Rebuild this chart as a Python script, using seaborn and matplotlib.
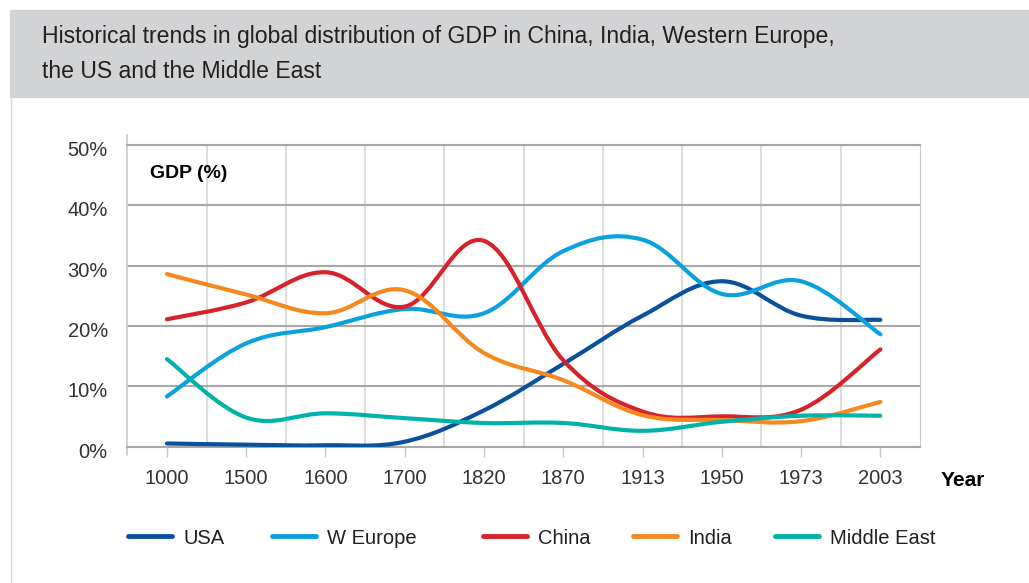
import numpy as np
import pandas as pd
import matplotlib.pyplot as plt
import seaborn as sns
from matplotlib.path import Path
from matplotlib.patches import PathPatch, Rectangle
from matplotlib.lines import Line2D
from matplotlib.transforms import ScaledTranslation

# values (share of world GDP, %)
years = ["1000", "1500", "1600", "1700", "1820", "1870", "1913", "1950", "1973", "2003"]
usa = [0.5, 0.3, 0.2, 0.8, 6.0, 13.7, 21.7, 27.4, 21.7, 21.0]
w_europe = [8.3, 17.1, 19.8, 22.8, 22.1, 32.4, 34.3, 25.3, 27.4, 18.6]
china = [21.1, 23.9, 28.9, 23.2, 34.1, 14.3, 5.8, 5.0, 6.1, 16.1]
india = [28.6, 25.2, 22.1, 25.9, 15.5, 11.0, 5.2, 4.4, 4.2, 7.4]
middle_east = [14.5, 4.8, 5.5, 4.7, 3.9, 3.9, 2.6, 4.1, 5.1, 5.1]

series = ["USA", "W Europe", "China", "India", "Middle East"]
y_ticks = [0, 10, 20, 30, 40, 50]

df = pd.DataFrame({"Year": years, "USA": usa, "W Europe": w_europe,
                   "China": china, "India": india, "Middle East": middle_east})
df["pos"] = np.arange(len(df))

palette = dict(zip(series, ["#0a519c", "#0ba1dd", "#d6222a", "#f5881f", "#00b2a9"]))

sns.set_style("white")
plt.rcParams["font.family"] = ["Liberation Sans", "DejaVu Sans"]


def smooth_path(xs, ys, k=0.18):
    # cardinal spline through the points, drawn as cubic bezier segments
    pts = np.column_stack([xs, ys]).astype(float)
    ext = np.vstack([pts[0], pts, pts[-1]])
    verts = [pts[0]]
    codes = [Path.MOVETO]
    for i in range(len(pts) - 1):
        p0, p1, p2, p3 = ext[i], ext[i + 1], ext[i + 2], ext[i + 3]
        verts += [p1 + (p2 - p0) * k, p2 - (p3 - p1) * k, p2]
        codes += [Path.CURVE4] * 3
    return Path(verts, codes)


W, H = 1029, 583
fig = plt.figure(figsize=(W / 100, H / 100), dpi=100)

# title band
fig.patches.append(Rectangle((10 / W, 1 - 97 / H), 1, 87 / H, transform=fig.transFigure,
                             color="#d1d3d4", zorder=0))
fig.add_artist(Line2D([10.5 / W, 10.5 / W], [0, 1 - 97 / H], color="#dcdcdc", lw=1))
fig.text(42 / W, 1 - 37 / H, "Historical trends in global distribution of GDP in China, India, Western Europe,",
         fontsize=16.6, color="#231f20", va="center")
fig.text(42 / W, 1 - 72 / H, "the US and the Middle East", fontsize=16.6, color="#231f20", va="center")

ax = fig.add_axes([127.3 / W, 136.5 / H, 792.7 / W, 301.5 / H])
ax.set_xlim(-0.5, len(years) - 0.5)
ax.set_ylim(0, 50)

for name in series:
    ax.add_patch(PathPatch(smooth_path(df["pos"], df[name]), facecolor="none",
                           edgecolor=palette[name], lw=3, capstyle="round",
                           joinstyle="round", zorder=3))

ax.set_xticks(df["pos"])
ax.set_xticklabels(years)
ax.set_xticks(np.arange(0.5, len(years) - 1, 1), minor=True)
ax.set_yticks(y_ticks)
ax.set_yticklabels([f"{v}%" for v in y_ticks])
ax.tick_params(axis="x", which="major", length=7, color="#c8c8c8", width=1, pad=9,
               labelsize=14.5, labelcolor="#333333", direction="out", bottom=True)
ax.tick_params(axis="x", which="minor", length=0)
ax.tick_params(axis="y", length=0, pad=14, labelsize=14.5, labelcolor="#333333")
shift = ScaledTranslation(0, -3.5 / 100, fig.dpi_scale_trans)
for lab in ax.get_yticklabels():
    lab.set_transform(lab.get_transform() + shift)

ax.set_axisbelow(True)
ax.grid(axis="x", which="minor", color="#d9d9d9", lw=1.3)
ax.grid(axis="y", which="major", color="#a8a8a8", lw=1.5)

ax.spines["top"].set_color("#a8a8a8")
ax.spines["top"].set_linewidth(1.5)
ax.spines["bottom"].set_color("#a8a8a8")
ax.spines["bottom"].set_linewidth(1.5)
ax.spines["right"].set_color("#c8c8c8")
ax.spines["left"].set_visible(False)
ax.add_line(Line2D([0, 0], [-0.028, 1.033], transform=ax.transAxes, color="#c8c8c8",
                   lw=1.2, clip_on=False))

fig.text(150 / W, 1 - 174 / H, "GDP (%)", fontsize=14, fontweight="bold", color="black", va="center")
fig.text(941 / W, 1 - 480 / H, "Year", fontsize=15, fontweight="bold", color="black", va="center")

# legend entries sit at uneven spacing in the reference, so place each one
legend_x = [128, 272, 483, 633, 775]
for name, lx in zip(series, legend_x):
    leg = fig.legend([Line2D([], [], color=palette[name], lw=3.5)], [name],
                     loc="center left", bbox_to_anchor=(lx / W, 1 - 538 / H),
                     frameon=False, fontsize=14.5, handlelength=2.2, handletextpad=0.55,
                     borderpad=0, borderaxespad=0, labelcolor="#231f20")

fig.savefig("out.png", dpi=100)
